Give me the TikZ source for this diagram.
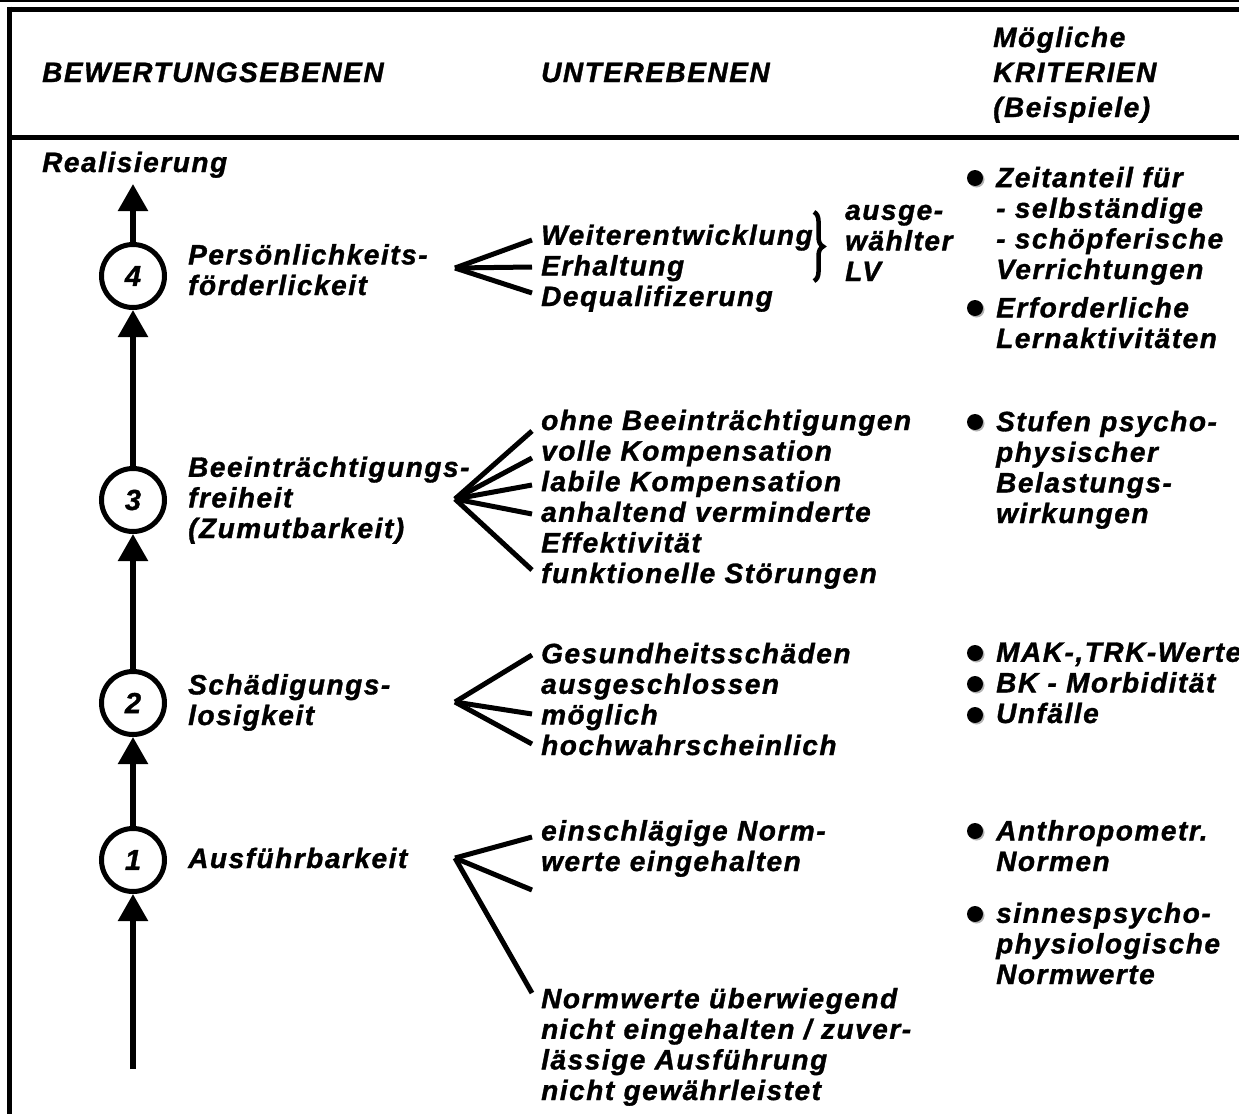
\documentclass[tikz,border=0pt]{standalone}
\usepackage{fontspec}
\setmainfont{Liberation Sans}
\newfontfamily\spaced[LetterSpace=5.5, BoldItalicFeatures={FakeBold=1.2}]{Liberation Sans}
\usetikzlibrary{arrows.meta,decorations.pathreplacing}

\begin{document}
\begin{tikzpicture}[x=1pt,y=-1pt,
  % multi-line labels are placed by the baseline of their last line
  lbl/.style={font=\spaced\bfseries\itshape\fontsize{28}{30.6}\selectfont,
              align=left, anchor=base west, inner sep=0pt},
  head/.style={lbl, font=\spaced\bfseries\itshape\fontsize{28}{35}\selectfont},
  ring/.style={circle, draw, line width=5pt, minimum size=63pt, inner sep=0pt,
               font=\spaced\bfseries\itshape\fontsize{29}{29}\selectfont},
  flow/.style={line width=5.5pt, -{Triangle[width=29pt,length=27pt]}},
  fan/.style={line width=5pt},
  frame/.style={line width=5pt},
  dot/.style={circle, fill=black, minimum size=16pt, inner sep=0pt}
]
\useasboundingbox (0,0) rectangle (1239,1114);
\fill[white] (0,0) rectangle (1239,1114);

% frame
\draw[line width=2pt] (0,1) -- (1239,1);
\draw[frame] (7,9) -- (1239,9);
\draw[frame] (9.5,6.5) -- (9.5,1114);
\draw[line width=4.5pt] (9.5,137.5) -- (1239,137.5);

% column heads
\node[head] (h1) at (42,82) {BEWERTUNGSEBENEN};
\node[head] (h2) at (541,82) {UNTEREBENEN};
\node[head] (h3) at (993,117) {Mögliche\\KRITERIEN\\(Beispiele)};

% evaluation levels
\node[lbl] (real) at (42,172) {Realisierung};
\coordinate (top) at (133,184);
\node[ring] (c4) at (133,276) {4};
\node[ring] (c3) at (133,500) {3};
\node[ring] (c2) at (133,703) {2};
\node[ring] (c1) at (133,860) {1};
\coordinate (base) at (133,1069);
\draw[flow] (c4) -- (top);
\draw[flow] (c3) -- (c4);
\draw[flow] (c2) -- (c3);
\draw[flow] (c1) -- (c2);
\draw[flow] (base) -- (c1);

\node[lbl] (l4) at (188,295) {Persönlichkeits-\\förderlickeit};
\node[lbl] (l3) at (188,538) {Beeinträchtigungs-\\freiheit\\(Zumutbarkeit)};
\node[lbl] (l2) at (188,725) {Schädigungs-\\losigkeit};
\node[lbl] (l1) at (188,868) {Ausführbarkeit};

% fans to the sub-levels
\coordinate (f4) at (455,268);
\foreach \y [count=\i] in {240,267,293}{
  \coordinate (f4e\i) at (532,\y);
  \draw[fan] (f4) -- (f4e\i);
}
\coordinate (f3) at (455,499);
\foreach \y [count=\i] in {431,458,485,514,570}{
  \coordinate (f3e\i) at (532,\y);
  \draw[fan] (f3) -- (f3e\i);
}
\coordinate (f2) at (455,702);
\foreach \y [count=\i] in {655,714,744}{
  \coordinate (f2e\i) at (532,\y);
  \draw[fan] (f2) -- (f2e\i);
}
\coordinate (f1) at (455,858);
\foreach \y [count=\i] in {837,890,993}{
  \coordinate (f1e\i) at (532,\y);
  \draw[fan] (f1) -- (f1e\i);
}

% sub-levels
\node[lbl] (u4) at (541,306) {Weiterentwicklung\\Erhaltung\\Dequalifizerung};
\coordinate (bra) at (814,212);
\coordinate (brb) at (814,281);
\draw[line width=4.5pt, decorate, decoration={brace, amplitude=9pt}] (bra) -- (brb);
\node[lbl] (lv) at (845,281) {ausge-\\wählter\\LV};
\node[lbl] (u3) at (541,583) {ohne Beeinträchtigungen\\volle Kompensation\\labile Kompensation\\anhaltend verminderte\\Effektivität\\funktionelle Störungen};
\node[lbl] (u2) at (541,755) {Gesundheitsschäden\\ausgeschlossen\\möglich\\hochwahrscheinlich};
\node[lbl] (u1a) at (541,871) {einschlägige Norm-\\werte eingehalten};
\node[lbl] (u1b) at (541,1100) {Normwerte überwiegend\\nicht eingehalten / zuver-\\lässige Ausführung\\nicht gewährleistet};

% criteria
\foreach \n/\y in {k1/178,k2/308,k3/422,k4/653,k5/684,k6/715,k7/831,k8/914}{
  \fill[gray!60] (976.5,\y+1.5) circle (8pt);
  \node[dot] (\n) at (975,\y) {};
}
\node[lbl] (t1) at (996,279) {Zeitanteil für\\- selbständige\\- schöpferische\\Verrichtungen};
\node[lbl] (t2) at (996,348) {Erforderliche\\Lernaktivitäten};
\node[lbl] (t3) at (996,523) {Stufen psycho-\\physischer\\Belastungs-\\wirkungen};
\node[lbl] (t4) at (996,723) {MAK-,TRK-Werte\\BK - Morbidität\\Unfälle};
\node[lbl] (t5) at (996,871) {Anthropometr.\\Normen};
\node[lbl] (t6) at (996,984) {sinnespsycho-\\physiologische\\Normwerte};
\end{tikzpicture}
\end{document}
